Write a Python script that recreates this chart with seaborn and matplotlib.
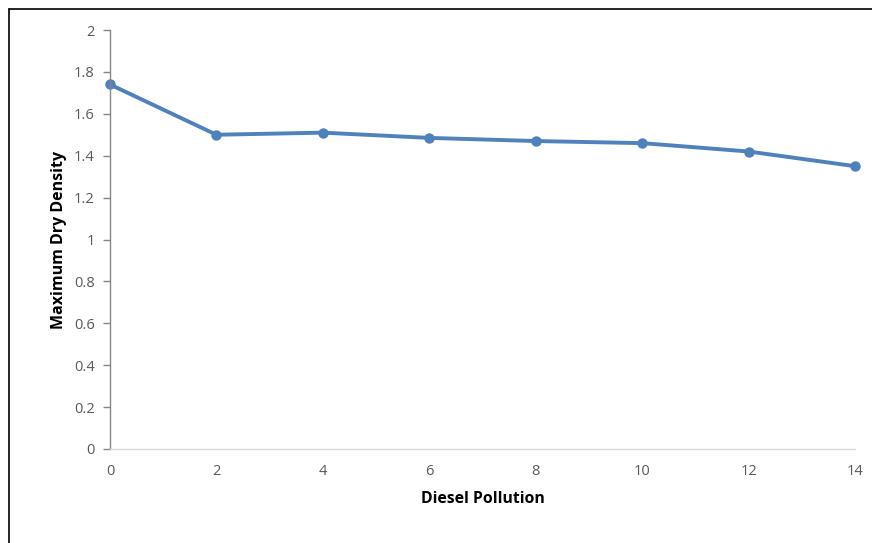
import matplotlib
matplotlib.use("Agg")
import matplotlib.pyplot as plt
import seaborn as sns
import pandas as pd
from matplotlib.lines import Line2D

diesel_pollution = [0, 2, 4, 6, 8, 10, 12, 14]
max_dry_density = [1.74, 1.50, 1.51, 1.485, 1.47, 1.46, 1.42, 1.35]
x_ticks = [0, 2, 4, 6, 8, 10, 12, 14]
y_ticks = [0, 0.2, 0.4, 0.6, 0.8, 1, 1.2, 1.4, 1.6, 1.8, 2]
y_tick_labels = ["0", "0.2", "0.4", "0.6", "0.8", "1", "1.2", "1.4", "1.6", "1.8", "2"]

sns.set_style("white")
plt.rcParams['font.family'] = ['Open Sans', 'DejaVu Sans']

df = pd.DataFrame({"Diesel Pollution": diesel_pollution,
                   "Maximum Dry Density": max_dry_density})

W, H = 872, 543
fig = plt.figure(figsize=(W / 100, H / 100), dpi=100)
ax = fig.add_axes([110 / W, 1 - 449 / H, (855 - 110) / W, (449 - 30) / H])

sns.lineplot(data=df, x="Diesel Pollution", y="Maximum Dry Density", ax=ax,
             color="#4F81BD", linewidth=2.8, marker="o", markersize=7.5,
             markeredgewidth=0, clip_on=False)

ax.set_xlim(0, 14)
ax.set_ylim(0, 2)
ax.set_xticks(x_ticks)
ax.set_xticklabels([str(v) for v in x_ticks])
ax.set_yticks(y_ticks)
ax.set_yticklabels(y_tick_labels)

for s in ["top", "right"]:
    ax.spines[s].set_visible(False)
ax.spines["left"].set_color("#868686")
ax.spines["left"].set_linewidth(1.0)
ax.spines["bottom"].set_color("#D9D9D9")
ax.spines["bottom"].set_linewidth(1.0)

ax.tick_params(axis="y", which="both", left=True, length=5, width=1,
               color="#868686", labelcolor="#595959", labelsize=10.5, pad=6)
ax.tick_params(axis="x", which="both", bottom=False, labelcolor="#595959",
               labelsize=10.5, pad=7)

ax.set_xlabel("Diesel Pollution", fontsize=11.3, fontweight="bold",
              color="black", labelpad=9)
ax.set_ylabel("Maximum Dry Density", fontsize=11.5, fontweight="bold",
              color="black", labelpad=5)

# outer chart border (top and left visible)
fig.add_artist(Line2D([9 / W, 1.0], [1 - 8.5 / H, 1 - 8.5 / H],
                      transform=fig.transFigure, color="black", linewidth=1.2))
fig.add_artist(Line2D([9 / W, 9 / W], [0, 1 - 8.5 / H],
                      transform=fig.transFigure, color="black", linewidth=1.2))

fig.savefig("out.png", dpi=100, facecolor="white")
